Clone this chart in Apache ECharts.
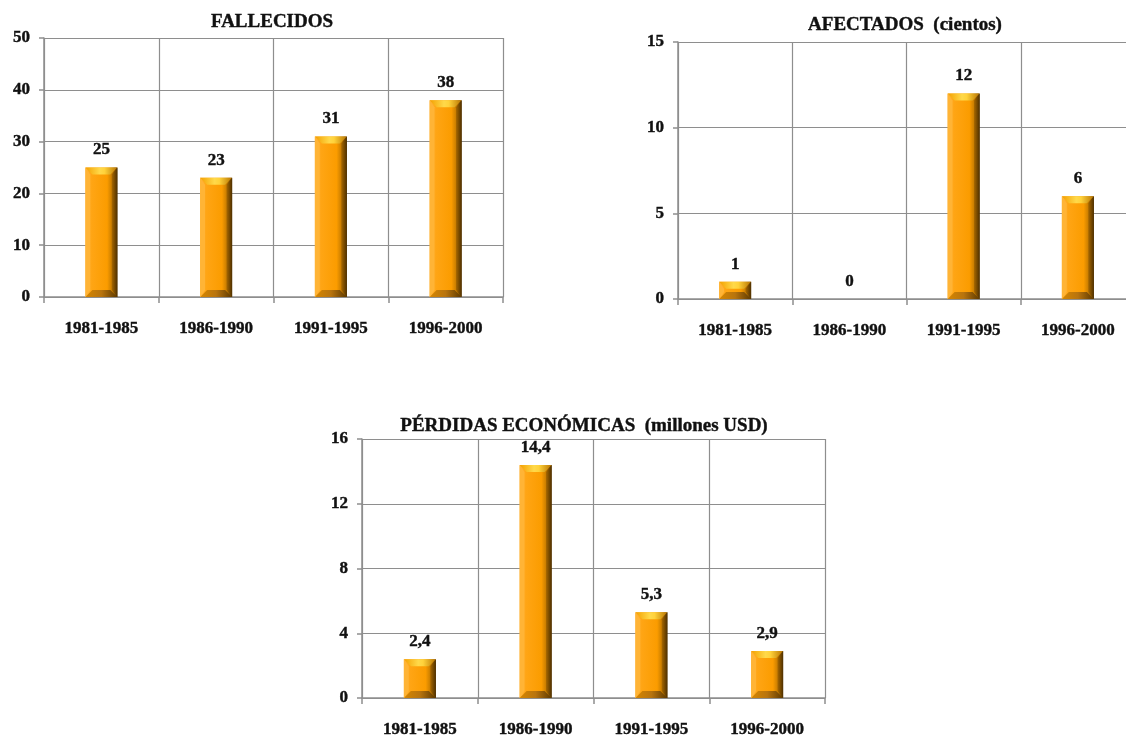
<!DOCTYPE html>
<html>
<head>
<meta charset="utf-8">
<script src="https://cdn.jsdelivr.net/npm/echarts@6/dist/echarts.min.js"></script>
<style>
  html, body { margin: 0; padding: 0; background: #fff; }
  #chart { width: 1126px; height: 736px; }
</style>
</head>
<body>
<div id="chart"></div>
<script>
// Periods shared by the three panels
const periodos = ['1981-1985', '1986-1990', '1991-1995', '1996-2000'];
// Deaths per five-year period
const fallecidos = [25, 23, 31, 38];
// People affected (hundreds)
const afectados = [1, 0, 12, 6];
// Economic losses (million USD)
const perdidas = [2.4, 14.4, 5.3, 2.9];

const titulos = ['FALLECIDOS', 'AFECTADOS  (cientos)', 'PÉRDIDAS ECONÓMICAS  (millones USD)'];
const ejesY = [
  { max: 50, interval: 10 },
  { max: 15, interval: 5 },
  { max: 16, interval: 4 }
];

const FONT = '"Liberation Serif", "Times New Roman", serif';
const INK = '#111';
const GRID_COLOR = '#8e8e8e';
const BAR_W = 32;
const TXT = { fontFamily: FONT, fontWeight: 'bold', color: INK, textBorderColor: INK, textBorderWidth: 0.4 };

const chart = echarts.init(document.getElementById('chart'), null, { renderer: 'canvas' });

// The right-hand panel runs slightly past the page edge
const grids = [
  { left: 44, top: 38, width: 459, height: 259 },
  { left: 678, top: 42, width: 457, height: 257 },
  { left: 362, top: 439, width: 463, height: 259 }
];

// Title centre points (x, y)
const titleCenters = [[272, 22], [905, 25], [584, 426]];
const TITLE_SIZE = 19;

// Face colour of each bar: light left edge, bright body, dark right shade
const faceGradient = new echarts.graphic.LinearGradient(0, 0, 1, 0, [
  { offset: 0, color: '#FFB23A' },
  { offset: 0.2, color: '#FFA514' },
  { offset: 0.68, color: '#FB9C00' },
  { offset: 0.84, color: '#C47A00' },
  { offset: 1, color: '#5E3A00' }
]);

// Bevel overlay drawn on top of each bar
function bevel(params, api) {
  const val = api.value(1);
  const top = api.coord([api.value(0), val]);
  const base = api.coord([api.value(0), 0]);
  const h = base[1] - top[1];
  if (h < 1) return null;
  const x0 = top[0] - BAR_W / 2, x1 = top[0] + BAR_W / 2;
  const yT = top[1], yB = base[1];
  const b = Math.min(7, h / 2);
  const children = [
    { // top bevel
      type: 'polygon',
      shape: { points: [[x0, yT], [x1, yT], [x1 - b, yT + b], [x0 + b, yT + b]] },
      style: {
        fill: new echarts.graphic.LinearGradient(0, 0, 1, 0, [
          { offset: 0, color: '#F3A000' },
          { offset: 0.45, color: '#FFD94A' },
          { offset: 0.6, color: '#FFD23A' },
          { offset: 1, color: '#B87400' }
        ])
      }
    },
    { // bottom bevel
      type: 'polygon',
      shape: { points: [[x0, yB], [x1, yB], [x1 - b, yB - b], [x0 + b, yB - b]] },
      style: {
        fill: new echarts.graphic.LinearGradient(0, 0, 1, 0, [
          { offset: 0, color: '#D68600' },
          { offset: 0.5, color: '#B8740E' },
          { offset: 1, color: '#5E3A00' }
        ])
      }
    },
    { // left bevel
      type: 'polygon',
      shape: { points: [[x0, yT], [x0 + b * 0.7, yT + b], [x0 + b * 0.7, yB - b], [x0, yB]] },
      style: { fill: '#FFB436' }
    },
    { // right bevel
      type: 'polygon',
      shape: { points: [[x1, yT], [x1 - b * 0.8, yT + b], [x1 - b * 0.8, yB - b], [x1, yB]] },
      style: {
        fill: new echarts.graphic.LinearGradient(0, 0, 1, 0, [
          { offset: 0, color: '#A86800' },
          { offset: 1, color: '#4E3000' }
        ])
      }
    }
  ];
  return { type: 'group', children };
}

const seriesData = [fallecidos, afectados, perdidas];

const option = {
  animation: false,
  backgroundColor: '#ffffff',
  title: titulos.map((t, i) => ({
    text: t,
    left: titleCenters[i][0],
    top: titleCenters[i][1] - TITLE_SIZE / 2,
    padding: 0,
    textAlign: 'center',
    textStyle: Object.assign({ fontSize: TITLE_SIZE, lineHeight: TITLE_SIZE }, TXT)
  })),
  grid: grids.map(g => Object.assign({ containLabel: false, outerBoundsMode: 'none' }, g)),
  xAxis: grids.map((g, i) => ({
    gridIndex: i,
    type: 'category',
    data: periodos,
    boundaryGap: true,
    axisLine: { show: true, lineStyle: { color: GRID_COLOR, width: 1.5 } },
    axisTick: { show: true, length: 6, interval: 0, lineStyle: { color: GRID_COLOR, width: 1.5 } },
    splitLine: { show: true, interval: 0, lineStyle: { color: GRID_COLOR, width: 1.2 } },
    axisLabel: Object.assign({ interval: 0, margin: 23, fontSize: 17 }, TXT)
  })),
  yAxis: ejesY.map((y, i) => ({
    gridIndex: i,
    type: 'value',
    min: 0,
    max: y.max,
    interval: y.interval,
    axisLine: { show: true, lineStyle: { color: GRID_COLOR, width: 1.5 } },
    axisTick: { show: true, length: 5, lineStyle: { color: GRID_COLOR, width: 1.5 } },
    splitLine: { show: true, lineStyle: { color: GRID_COLOR, width: 1.2 } },
    axisLabel: Object.assign({ margin: 14, fontSize: 17 }, TXT)
  })),
  series: []
};

seriesData.forEach((vals, i) => {
  option.series.push({
    type: 'bar',
    xAxisIndex: i,
    yAxisIndex: i,
    data: vals,
    barWidth: BAR_W,
    itemStyle: { color: faceGradient },
    label: Object.assign({
      show: true,
      position: 'top',
      distance: 9,
      fontSize: 17,
      formatter: p => String(p.value).replace('.', ',')
    }, TXT),
    z: 2
  });
  option.series.push({
    type: 'custom',
    xAxisIndex: i,
    yAxisIndex: i,
    data: vals.map((v, k) => [k, v]),
    renderItem: bevel,
    silent: true,
    z: 3
  });
});

chart.setOption(option);
</script>
</body>
</html>
